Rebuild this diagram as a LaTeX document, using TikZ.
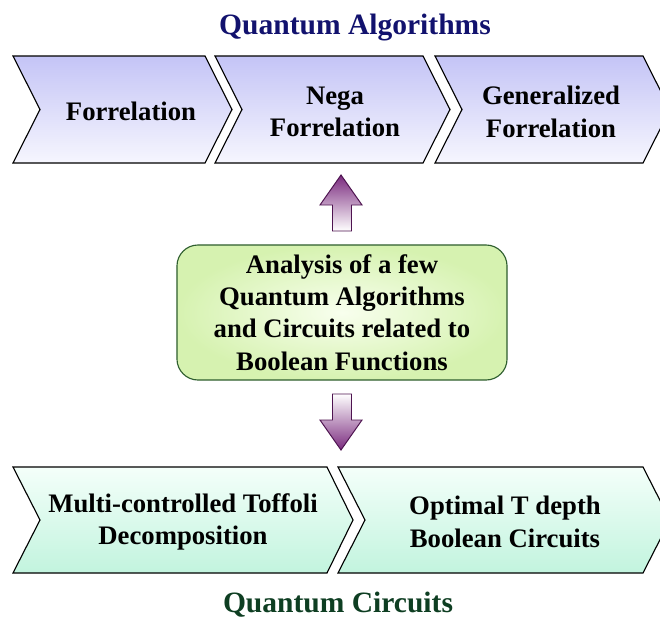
\documentclass[tikz,border=0pt]{standalone}
\usepackage{fontspec}
\setmainfont{Liberation Serif}
\usepackage{xcolor}
\definecolor{algtop}{HTML}{C4C4F6}
\definecolor{algbot}{HTML}{F6F6FE}
\definecolor{cirtop}{HTML}{F4FFFA}
\definecolor{cirbot}{HTML}{C2F4DE}
\definecolor{coreout}{HTML}{D6F2B0}
\definecolor{corein}{HTML}{F8FFEE}
\definecolor{coreline}{HTML}{2E5E2E}
\definecolor{arrowdark}{HTML}{7A2A7E}
\definecolor{arrowline}{HTML}{4E1450}
\definecolor{algtitle}{HTML}{12126E}
\definecolor{cirtitle}{HTML}{0E3E22}

\begin{document}
\begin{tikzpicture}[x=0.025cm, y=-0.025cm,
    every node/.style={font=\fontsize{19}{23}\selectfont\bfseries},
    algbox/.style={draw=black, line width=0.8pt, top color=algtop, bottom color=algbot},
    cirbox/.style={draw=black, line width=0.8pt, top color=cirtop, bottom color=cirbot},
    uparrow/.style={draw=arrowline, line width=0.7pt, top color=arrowdark, bottom color=white},
    downarrow/.style={draw=arrowline, line width=0.7pt, top color=white, bottom color=arrowdark},
    lbl/.style={align=center, inner sep=0pt}]
    \useasboundingbox (0,0) rectangle (660,619);

    % titles
    \node[font=\fontsize{21}{25}\selectfont\bfseries, text=algtitle] (algtitle) at (355,28) {Quantum Algorithms};
    \node[font=\fontsize{21}{25}\selectfont\bfseries, text=cirtitle] (cirtitle) at (338,605) {Quantum Circuits};

    % top row
    \draw[algbox] (13,56) -- (205,56) -- (232,109.5) -- (205,163) -- (13,163) -- (40,109.5) -- cycle;
    \draw[algbox] (215,56) -- (423,56) -- (450,109.5) -- (423,163) -- (215,163) -- (242,109.5) -- cycle;
    \draw[algbox] (435,56) -- (643,56) -- (670,109.5) -- (643,163) -- (435,163) -- (462,109.5) -- cycle;
    \node[lbl] (forr) at (131,111) {Forrelation};
    \node[lbl] (nega) at (335,112) {Nega\\Forrelation};
    \node[lbl] (genforr) at (551,112) {Generalized\\Forrelation};

    % centre
    \node[draw=coreline, line width=0.8pt, rounded corners=15pt, inner color=corein, outer color=coreout,
      minimum width=8.25cm, minimum height=3.375cm] (core) at (342,312.5) {};
    \node[lbl] (coretext) at (core.center) {Analysis of a few\\Quantum Algorithms\\and Circuits related to\\Boolean Functions};

    % block arrows
    \draw[uparrow] (341,175) -- (362,205) -- (351.5,205) -- (351.5,231) -- (332.5,231) -- (332.5,205) -- (320,205) -- cycle;
    \draw[downarrow] (341,450) -- (362,420) -- (351.5,420) -- (351.5,394) -- (332.5,394) -- (332.5,420) -- (320,420) -- cycle;

    % bottom row
    \draw[cirbox] (13,467) -- (327,467) -- (353,520) -- (327,573) -- (13,573) -- (40,520) -- cycle;
    \draw[cirbox] (338,467) -- (643,467) -- (670,520) -- (643,573) -- (338,573) -- (365,520) -- cycle;
    \node[lbl] (toffoli) at (183,522) {Multi-controlled Toffoli\\Decomposition};
    \node[lbl] (tdepth) at (505,522) {Optimal T depth\\Boolean Circuits};
  \end{tikzpicture}
\end{document}
